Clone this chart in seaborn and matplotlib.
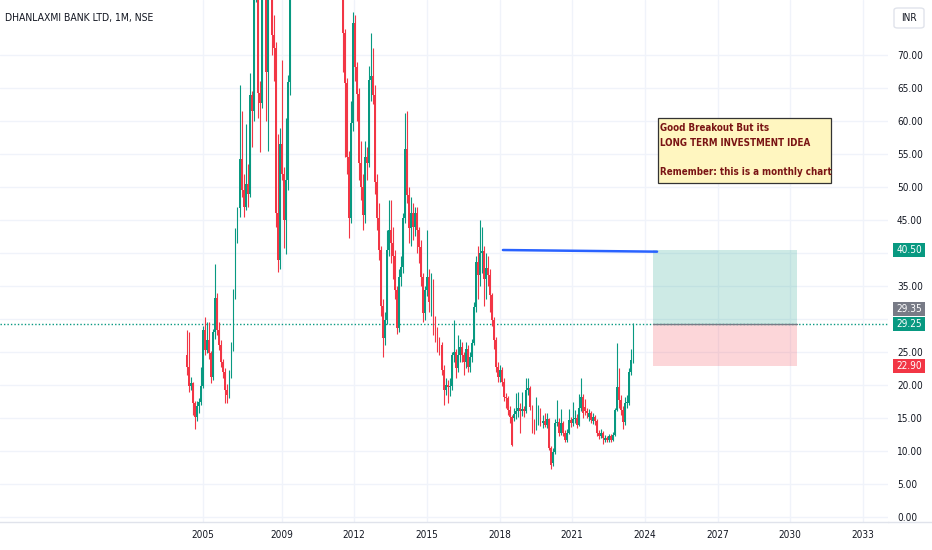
import numpy as np
import pandas as pd
import seaborn as sns
import matplotlib
matplotlib.use("Agg")
import matplotlib.pyplot as plt
from matplotlib import font_manager
from matplotlib.patches import Rectangle, FancyBboxPatch
from matplotlib.lines import Line2D
import matplotlib.transforms as mtrans

# ---------------- data (monthly candles) ----------------
opens = [24.5, 22.8, 19.8, 20.3, 17.3, 15.2, 16.8, 17.4, 19.8, 28.3, 25.3, 26.8, 24.8, 21.2, 28.0, 33.2,
         28.3, 26.0, 23.5, 22.0, 19.2, 18.5, 21.5, 25.8, 33.7, 43.0, 46.8, 54.3, 49.5, 47.0, 50.5, 49.0,
         64.0, 61.5, 82.0, 90.0, 64.2, 62.7, 85.0, 92.0, 67.4, 90.0, 95.0, 73.0, 71.0, 46.0, 39.0, 56.5,
         52.0, 45.0, 51.0, 65.9,
         85, 98, 110, 120, 132, 145, 150, 162, 170, 165, 182, 198, 190, 178, 168, 155, 148, 135, 126, 118,
         110, 104, 100, 96, 92,
         88, 73.3, 65.7, 54.6, 45.3, 59.7, 74.8, 68.2, 64.1, 53.6, 50.0, 45.8, 54.6, 53.6, 66.2, 66.8,
         64.0, 50.8, 45.3, 40.4, 32.0, 27.1, 29.8, 40.4, 43.5, 41.5, 39.5, 34.4, 28.6, 36.4, 37.9, 45.3,
         55.8, 48.8, 43.8, 46.0, 44.0, 46.0, 43.5, 40.9, 36.4, 30.9, 34.4, 36.4, 32.5, 35.5, 28.3, 27.8,
         26.3, 26.0, 22.3, 19.3, 20.0, 19.7, 19.9, 24.5, 25.0, 22.5, 24.5, 25.8, 24.5, 23.5, 25.5, 22.8,
         24.2, 26.4, 31.8, 38.6, 36.7, 40.0, 40.3, 36.0, 37.8, 36.7, 33.6, 29.8, 26.8, 22.8, 21.2, 22.3,
         20.5, 18.2, 18.0, 16.2, 15.2,
         15.0, 15.6, 16.0, 16.5, 16.0, 16.3, 16.0, 19.2, 19.5, 16.7, 14.2, 13.5, 14.7, 16.2, 14.2, 14.6,
         14.0, 14.8, 10.5, 8.2, 9.9, 14.2, 14.4, 12.7, 14.2, 12.7, 11.7, 12.7, 14.7, 14.2, 14.8, 15.0,
         14.0, 16.5, 18.2, 16.7, 16.0, 15.2, 15.7, 14.5, 15.2, 14.5, 12.7, 12.2, 12.7, 11.7, 11.9, 11.7,
         12.2, 11.7, 12.4, 16.2, 19.7, 17.7, 16.2, 14.4, 17.2, 17.3, 22.0, 23.8]
highs = [28.3, 28.0, 21.2, 20.5, 17.6, 17.5, 18.0, 22.8, 29.0, 30.3, 29.5, 29.6, 25.2, 28.5, 38.4, 34.0,
         29.5, 26.8, 24.0, 22.6, 20.2, 22.2, 26.5, 34.5, 43.8, 47.0, 65.5, 61.5, 52.0, 59.5, 53.5, 67.3,
         64.5, 88.0, 98.0, 92.0, 66.0, 95.0, 100.0, 95.0, 98.0, 105.0, 100.0, 76.0, 72.0, 58.0, 59.0, 69.2,
         53.0, 60.5, 67.0, 90.0,
         102, 115, 125, 138, 150, 160, 168, 180, 185, 190, 205, 215, 200, 185, 175, 165, 158, 142, 135, 125,
         118, 112, 108, 102, 98,
         92.0, 74.0, 66.5, 55.5, 63.0, 76.5, 76.0, 69.0, 65.0, 57.0, 52.0, 57.0, 56.0, 68.4, 73.3, 71.0,
         65.5, 52.0, 47.5, 41.0, 33.0, 31.0, 43.5, 48.0, 48.0, 44.0, 40.5, 35.0, 37.5, 39.5, 46.0, 61.2,
         61.5, 50.0, 48.5, 47.5, 47.0, 47.0, 44.0, 42.0, 37.0, 35.0, 43.5, 37.5, 37.0, 36.0, 30.5, 28.8,
         27.3, 26.5, 23.0, 21.0, 20.8, 21.0, 25.0, 29.8, 25.5, 27.5, 27.0, 26.5, 25.0, 26.5, 26.0, 25.0,
         27.0, 32.5, 39.5, 41.0, 45.0, 43.9, 41.0, 40.0, 39.5, 37.5, 34.0, 30.3, 27.2, 23.5, 23.0, 22.8,
         21.0, 18.8, 18.3, 16.8, 15.5,
         16.5, 18.8, 19.0, 17.2, 18.9, 16.8, 21.0, 21.0, 19.8, 17.0, 14.8, 18.2, 17.0, 16.5, 15.5, 15.8,
         15.8, 15.0, 10.8, 10.5, 14.8, 17.7, 15.0, 16.4, 14.6, 13.2, 13.3, 16.4, 15.2, 17.4, 16.2, 15.6,
         18.6, 21.0, 18.6, 17.9, 16.5, 16.4, 16.0, 15.8, 15.5, 14.8, 13.2, 13.3, 13.0, 12.4, 12.3, 12.6,
         12.5, 12.9, 16.5, 26.4, 22.5, 18.5, 16.8, 18.2, 18.5, 22.6, 25.5, 29.35]
lows = [21.5, 19.0, 19.2, 15.5, 13.4, 14.6, 15.8, 17.0, 19.5, 24.5, 24.8, 24.0, 20.3, 20.8, 27.0, 27.5,
        25.3, 22.8, 21.0, 17.3, 17.2, 18.0, 21.0, 25.2, 33.0, 41.5, 45.5, 48.5, 45.5, 46.5, 47.0, 48.5,
        56.0, 60.0, 78.0, 60.5, 55.3, 62.0, 80.0, 60.0, 55.5, 85.0, 70.0, 66.0, 44.0, 37.1, 37.5, 51.0,
        40.7, 39.8, 49.5, 64.0,
        82, 95, 104, 112, 125, 135, 140, 150, 155, 160, 175, 185, 170, 160, 150, 140, 130, 120, 112, 104,
        98, 94, 90, 86, 84,
        67.4, 54.6, 52.0, 42.3, 44.5, 58.5, 66.0, 60.0, 51.0, 48.0, 43.5, 44.5, 51.0, 53.0, 63.0, 62.5,
        49.0, 43.5, 39.0, 30.5, 24.3, 26.0, 29.3, 39.5, 38.5, 36.0, 33.0, 27.8, 28.0, 35.0, 37.0, 44.5,
        47.5, 41.5, 41.0, 42.0, 42.5, 40.0, 38.5, 35.0, 29.5, 29.8, 33.5, 31.0, 30.5, 27.5, 26.5, 25.0,
        24.5, 21.5, 17.0, 18.5, 17.2, 18.3, 19.3, 23.5, 21.0, 22.0, 23.5, 23.5, 21.5, 22.5, 22.0, 22.0,
        23.5, 26.0, 31.0, 33.0, 35.0, 37.0, 32.0, 33.0, 35.0, 31.0, 29.0, 25.5, 22.0, 20.5, 20.5, 19.8,
        17.5, 16.5, 15.5, 14.3, 10.7,
        14.5, 14.8, 15.2, 12.7, 15.3, 15.2, 15.7, 18.5, 16.2, 12.7, 12.5, 13.2, 14.0, 13.8, 13.5, 13.6,
        13.5, 10.2, 7.2, 7.8, 9.6, 13.8, 12.2, 12.4, 12.2, 11.3, 11.4, 12.5, 13.6, 13.8, 14.2, 13.5,
        13.8, 16.0, 15.0, 15.5, 15.0, 14.6, 14.2, 14.1, 14.0, 12.2, 11.8, 11.9, 11.1, 11.4, 11.3, 11.4,
        11.3, 11.5, 12.2, 16.0, 16.5, 15.5, 13.4, 14.0, 16.5, 17.0, 21.5, 23.3]
closes = [22.8, 19.8, 20.3, 17.3, 15.2, 16.8, 17.4, 19.8, 28.3, 25.3, 26.8, 24.8, 21.2, 28.0, 33.2, 28.3,
          26.0, 23.5, 22.0, 19.2, 18.5, 21.5, 25.8, 33.7, 43.0, 46.8, 54.3, 49.5, 47.0, 50.5, 49.0, 64.0,
          61.5, 82.0, 90.0, 64.2, 62.7, 85.0, 92.0, 67.4, 90.0, 95.0, 73.0, 71.0, 46.0, 39.0, 56.5, 52.0,
          45.0, 51.0, 65.9, 85.0,
          98, 110, 120, 132, 145, 150, 162, 170, 165, 182, 198, 190, 178, 168, 155, 148, 135, 126, 118, 110,
          104, 100, 96, 92, 88,
          73.3, 65.7, 54.6, 45.3, 59.7, 74.8, 68.2, 64.1, 53.6, 50.0, 45.8, 54.6, 53.6, 66.2, 66.8, 64.0,
          50.8, 45.3, 40.4, 32.0, 27.1, 29.8, 40.4, 43.5, 41.5, 39.5, 34.4, 28.6, 36.4, 37.9, 45.3, 55.8,
          48.8, 43.8, 46.0, 44.0, 46.0, 43.5, 40.9, 36.4, 30.9, 34.4, 36.4, 32.5, 35.5, 28.3, 27.8, 26.3,
          26.0, 22.3, 19.3, 20.0, 19.7, 19.9, 24.5, 25.0, 22.5, 24.5, 25.8, 24.5, 23.5, 25.5, 22.8, 24.2,
          26.4, 31.8, 38.6, 36.7, 40.0, 40.3, 36.0, 37.8, 36.7, 33.6, 29.8, 26.8, 22.8, 21.2, 22.3, 20.5,
          18.2, 18.0, 16.2, 15.2, 10.9,
          15.6, 16.0, 16.5, 16.0, 16.3, 16.0, 19.2, 19.5, 16.7, 14.2, 13.5, 14.7, 16.2, 14.2, 14.6, 14.0,
          14.8, 10.5, 7.9, 9.9, 14.2, 14.4, 12.7, 14.2, 12.7, 11.7, 12.7, 14.7, 14.2, 14.8, 15.0, 14.0,
          16.5, 18.2, 15.7, 16.0, 15.7, 15.7, 14.7, 15.2, 14.5, 12.7, 12.2, 12.7, 11.9, 11.9, 11.7, 12.2,
          11.7, 12.4, 16.2, 19.7, 17.7, 16.2, 14.4, 17.2, 17.3, 22.0, 23.8, 29.25]

year_labels = ["2005", "2009", "2012", "2015", "2018", "2021", "2024", "2027", "2030", "2033"]
year_pos = [7.9, 47.0, 82.7, 118.8, 155.0, 190.6, 226.7, 262.9, 298.5, 334.7]
price_ticks = [0, 5, 10, 15, 20, 25, 30, 35, 40, 45, 50, 55, 60, 65, 70]
hidden_ticks = [30, 40]   # covered by the price labels in the reference

trend_x = [156.4, 232.7]
trend_y = [40.45, 40.2]
entry_price = 29.25
target_price = 40.50
stop_price = 22.90
last_high = 29.35
pos_x = [230.7, 302.0]
note_lines = ["Good Breakout But its", "LONG TERM INVESTMENT IDEA", "", "Remember: this is a monthly chart"]

# ---------------- style ----------------
sns.set_theme(style="white")

# pick a condensed face if one is installed (the reference uses a narrow UI font)
fam, stretch, scale = "Liberation Sans", "normal", 0.80
entries = font_manager.fontManager.ttflist
cond = lambda e: str(e.stretch) in ("condensed", "semi-condensed", "extra-condensed", "ultra-condensed") \
    or (isinstance(e.stretch, int) and e.stretch < 500)
if any(e.name == "Liberation Sans Narrow" for e in entries):
    fam, stretch, scale = "Liberation Sans Narrow", "normal", 1.0
elif any(e.name == "Noto Sans" and cond(e) and e.weight in (400, "normal", "regular") for e in entries):
    fam, stretch, scale = "Noto Sans", "condensed", 0.95
elif any(e.name == "DejaVu Sans" and cond(e) for e in entries):
    fam, stretch, scale = "DejaVu Sans", "condensed", 0.88
elif any(e.name == "Roboto Condensed" for e in entries):
    fam, stretch, scale = "Roboto Condensed", "normal", 1.0
plt.rcParams["font.family"] = [fam, "DejaVu Sans"]
plt.rcParams["font.stretch"] = stretch

TICK_FS = 8.2 * scale
TITLE_FS = 8.5 * scale
NOTE_FS = 8.0 * scale

GREEN = "#089981"
RED = "#f23645"
TXT = "#131722"
GRID = "#f0f3fa"

df = pd.DataFrame({"open": opens, "high": highs, "low": lows, "close": closes})
df["idx"] = np.arange(len(df))
df["up"] = df["close"] >= df["open"]

W, H = 932, 550
fig = plt.figure(figsize=(W / 100, H / 100), dpi=100)
fig.patch.set_facecolor("white")
ax = fig.add_axes([0, 28 / H, 888 / W, 522 / H])
ax.set_facecolor("white")

ax.set_xlim(-92.57, 347.03)
ax.set_ylim(-0.758, 78.33)

# grid
for p in price_ticks:
    ax.axhline(p, color=GRID, lw=1, zorder=0)
for xp in year_pos:
    ax.axvline(xp, color=GRID, lw=1, zorder=0)

# candles
cols = np.where(df["up"], GREEN, RED)
ax.vlines(df["idx"], df["low"], df["high"], colors=cols, lw=0.8, zorder=2)
body_lo = np.minimum(df["open"], df["close"])
body_h = np.maximum(np.abs(df["close"] - df["open"]), 0.2)
ax.bar(df["idx"], body_h, bottom=body_lo, width=0.9, color=cols, linewidth=0, zorder=3)

# long position drawing
ax.add_patch(Rectangle((pos_x[0], entry_price), pos_x[1] - pos_x[0], target_price - entry_price,
                       facecolor=GREEN, alpha=0.2, lw=0, zorder=1))
ax.add_patch(Rectangle((pos_x[0], stop_price), pos_x[1] - pos_x[0], entry_price - stop_price,
                       facecolor=RED, alpha=0.2, lw=0, zorder=1))
ax.plot(pos_x, [entry_price, entry_price], color="#787b86", lw=1, zorder=1.5)

# dotted last-price line
ax.axhline(entry_price, color=GREEN, lw=1, ls=(0, (1, 1.5)), zorder=1.2)

# trend line
sns.lineplot(x=trend_x, y=trend_y, ax=ax, color="#2962ff", lw=1.8, zorder=4)

# note box
ax.add_patch(Rectangle((233.2, 50.6), 318.8 - 233.2, 60.45 - 50.6, facecolor="#fff6c0",
                       edgecolor="#333333", lw=0.9, zorder=5))
note_y = [58.9, 56.6, 54.4, 52.2]
for txt, yy in zip(note_lines, note_y):
    if txt:
        ax.text(234.4, yy, txt, color="#7a1414", fontsize=NOTE_FS, fontweight="bold", va="center",
                ha="left", zorder=6)

# axes
ax.yaxis.tick_right()
ax.set_yticks(price_ticks)
ax.set_yticklabels(["" if p in hidden_ticks else f"{p:.2f}" for p in price_ticks])
ax.set_xticks(year_pos)
ax.set_xticklabels(year_labels)
ax.tick_params(axis="y", length=0, pad=6.5, labelsize=TICK_FS, labelcolor=TXT)
ax.tick_params(axis="x", length=0, pad=6.0, labelsize=TICK_FS, labelcolor=TXT)
for s in ["top", "left", "right"]:
    ax.spines[s].set_visible(False)
ax.spines["bottom"].set_color("#e0e3eb")
ax.spines["bottom"].set_linewidth(1)
fig.add_artist(Line2D([888 / W, 1], [28 / H, 28 / H], color="#e0e3eb", lw=1, transform=fig.transFigure))

# price labels on the scale
bt = mtrans.blended_transform_factory(fig.transFigure, ax.transData)
boxh = 14 / 6.6
for val, ypos, col in [(target_price, target_price, GREEN), (last_high, entry_price + 2.3, "#787b86"),
                       (entry_price, entry_price, GREEN), (stop_price, stop_price, RED)]:
    fig.add_artist(Rectangle((893 / W, ypos - boxh / 2), 32 / W, boxh, transform=bt, facecolor=col,
                             edgecolor="none", clip_on=False, zorder=10))
    fig.text(909 / W, ypos, f"{val:.2f}", transform=bt, ha="center", va="center",
             color="white", fontsize=TICK_FS, zorder=11)

# INR box
fig.add_artist(FancyBboxPatch((894 / W, 1 - 28 / H), 30 / W, 20 / H, boxstyle="round,pad=0,rounding_size=0.004",
                              transform=fig.transFigure, facecolor="white", edgecolor="#e0e3eb", lw=1))
fig.text(909 / W, 1 - 18 / H, "INR", ha="center", va="center", color=TXT, fontsize=TICK_FS)

# title
fig.text(5 / W, 1 - 18 / H, "DHANLAXMI BANK LTD, 1M, NSE", ha="left", va="center", color=TXT,
         fontsize=TITLE_FS)

fig.savefig("out.png", dpi=100, facecolor="white")
